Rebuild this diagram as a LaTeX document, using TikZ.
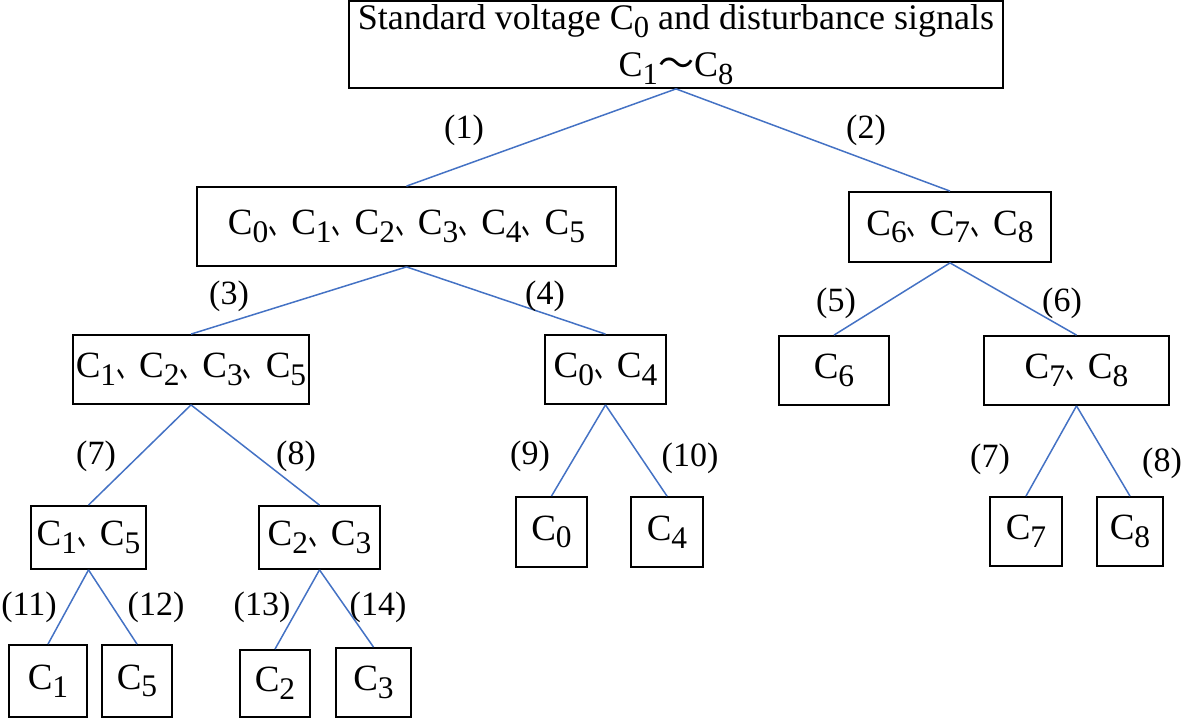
\documentclass[tikz,border=0pt]{standalone}
\usepackage{fontspec}
\usepackage{graphicx}
\setmainfont{Liberation Serif}
\newfontfamily\cjk{Noto Sans CJK SC}
\newcommand{\sbs}[1]{\raisebox{-0.45ex}{\scalebox{0.85}{#1}}}
\newcommand{\dun}{\scalebox{0.62}[1]{\cjk 、}}
\definecolor{edgeblue}{RGB}{68,114,196}
\begin{document}
\begin{tikzpicture}
    [x=1pt,y=-1pt,
     box/.style={draw,line width=1.8pt,inner sep=0pt,font=\rmfamily\fontsize{37}{44}\selectfont},
     num/.style={font=\rmfamily\fontsize{34}{40}\selectfont},
     edge/.style={draw=edgeblue,line width=1.5pt}]
    \useasboundingbox (0,0) rectangle (1181,719);
    % level 0
    \node[box,align=center,minimum width=654pt,minimum height=87pt,
      font=\rmfamily\fontsize{36}{47}\selectfont] (root) at (676,44.5)
      {Standard voltage C\sbs{0} and disturbance signals\\C\sbs{1}{\cjk ～}C\sbs{8}};
    % level 1
    \node[box,minimum width=419pt,minimum height=79pt] (A) at (406.5,226.5)
      {C\sbs{0}\dun C\sbs{1}\dun C\sbs{2}\dun C\sbs{3}\dun C\sbs{4}\dun C\sbs{5}};
    \node[box,minimum width=202pt,minimum height=70pt] (B) at (950,227)
      {C\sbs{6}\dun C\sbs{7}\dun C\sbs{8}};
    % level 2
    \node[box,minimum width=236pt,minimum height=69pt] (C) at (191,369.5)
      {C\sbs{1}\dun C\sbs{2}\dun C\sbs{3}\dun C\sbs{5}};
    \node[box,minimum width=121pt,minimum height=69pt] (D) at (605.5,369.5)
      {C\sbs{0}\dun C\sbs{4}};
    \node[box,minimum width=110pt,minimum height=69pt] (E) at (834,370.5) {C\sbs{6}};
    \node[box,minimum width=185pt,minimum height=69pt] (F) at (1076.5,370.5)
      {C\sbs{7}\dun C\sbs{8}};
    % level 3
    \node[box,minimum width=115pt,minimum height=63pt] (G) at (88.5,537.5)
      {C\sbs{1}\dun C\sbs{5}};
    \node[box,minimum width=121pt,minimum height=63pt] (H) at (319.5,537.5)
      {C\sbs{2}\dun C\sbs{3}};
    \node[box,minimum width=71pt,minimum height=70pt] (I) at (551.5,532) {C\sbs{0}};
    \node[box,minimum width=72pt,minimum height=70pt] (J) at (667,532) {C\sbs{4}};
    \node[box,minimum width=72pt,minimum height=69pt] (K) at (1026,531.5) {C\sbs{7}};
    \node[box,minimum width=66pt,minimum height=69pt] (L) at (1130,531.5) {C\sbs{8}};
    % level 4
    \node[box,minimum width=78pt,minimum height=72pt] (G1) at (48,681) {C\sbs{1}};
    \node[box,minimum width=70pt,minimum height=72pt] (G5) at (137,681) {C\sbs{5}};
    \node[box,minimum width=70pt,minimum height=67pt] (H2) at (275,683.5) {C\sbs{2}};
    \node[box,minimum width=75pt,minimum height=69pt] (H3) at (373.5,682.5) {C\sbs{3}};

    \draw[edge] (root.south) -- (A.north);
    \draw[edge] (root.south) -- (B.north);
    \draw[edge] (A.south) -- (C.north);
    \draw[edge] (A.south) -- (D.north);
    \draw[edge] (B.south) -- (E.north);
    \draw[edge] (B.south) -- (F.north);
    \draw[edge] (C.south) -- (G.north);
    \draw[edge] (C.south) -- (H.north);
    \draw[edge] (D.south) -- (I.north);
    \draw[edge] (D.south) -- (J.north);
    \draw[edge] (F.south) -- (K.north);
    \draw[edge] (F.south) -- (L.north);
    \draw[edge] (G.south) -- (G1.north);
    \draw[edge] (G.south) -- (G5.north);
    \draw[edge] (H.south) -- (H2.north);
    \draw[edge] (H.south) -- (H3.north);

    % branch numbers
    \node[num] (n1) at (464,130) {(1)};
    \node[num] (n2) at (866,130) {(2)};
    \node[num] (n3) at (229,296) {(3)};
    \node[num] (n4) at (545,296) {(4)};
    \node[num] (n5) at (836,303) {(5)};
    \node[num] (n6) at (1062,303) {(6)};
    \node[num] (n7) at (96,456) {(7)};
    \node[num] (n8) at (296,456) {(8)};
    \node[num] (n9) at (530,456) {(9)};
    \node[num] (n10) at (690,458) {(10)};
    \node[num] (m7) at (990,459) {(7)};
    \node[num] (m8) at (1162,463) {(8)};
    \node[num] (n11) at (29,607) {(11)};
    \node[num] (n12) at (156,607) {(12)};
    \node[num] (n13) at (262,607) {(13)};
    \node[num] (n14) at (378,607) {(14)};
  \end{tikzpicture}
\end{document}
